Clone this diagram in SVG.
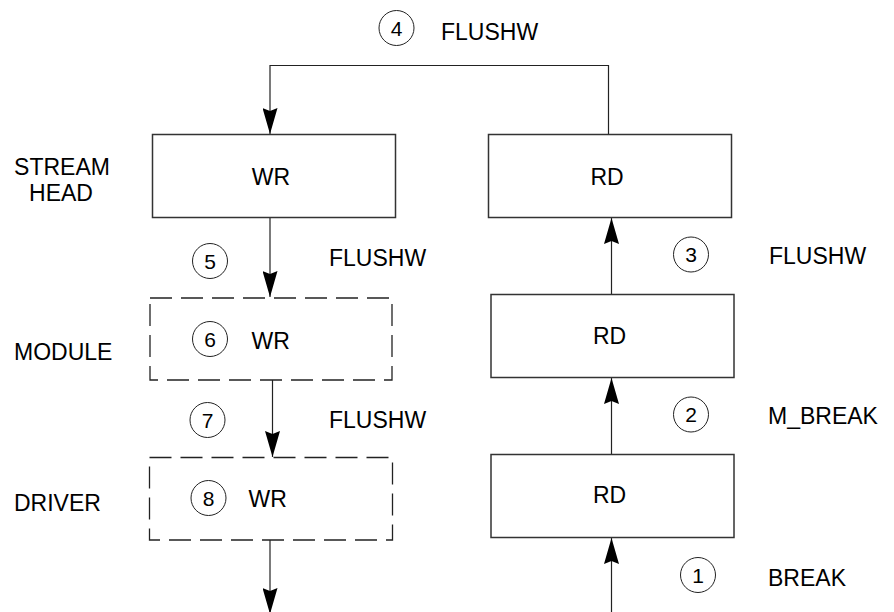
<svg xmlns="http://www.w3.org/2000/svg" width="894" height="612" viewBox="0 0 894 612">
  <style>
    text { font-family: "Liberation Sans", Arial, sans-serif; fill: #000; }
    .lbl { font-size: 23px; }
    .num { font-size: 21px; text-anchor: middle; }
    .mid { text-anchor: middle; }
    .box { fill: #fff; stroke: #333; stroke-width: 1.5; }
    .dash { fill: #fff; stroke: #222; stroke-width: 1.3; stroke-dasharray: 22 9; }
    .ring { fill: none; stroke: #222; stroke-width: 1; }
    .wire { fill: none; stroke: #222; stroke-width: 1.2; }
  </style>
  <defs>
    <marker id="arrow" viewBox="0 0 26 15" refX="26" refY="7.5" markerWidth="26" markerHeight="15" markerUnits="userSpaceOnUse" orient="auto">
      <path d="M0,0 L26,7.5 L0,15 L3,7.5 Z" fill="#000"/>
    </marker>
  </defs>

  <rect width="894" height="612" fill="#fff"/>

  <!-- layer labels -->
  <g id="layer-labels">
    <text class="lbl mid" x="62" y="175">STREAM</text>
    <text class="lbl mid" x="61" y="201">HEAD</text>
    <text class="lbl" x="14" y="360">MODULE</text>
    <text class="lbl" x="14" y="511">DRIVER</text>
  </g>

  <!-- connectors -->
  <g id="connectors">
    <path class="wire" d="M608.5,134.5 V65.5 H270 V134" marker-end="url(#arrow)"/>
    <path class="wire" d="M270,218 V297" marker-end="url(#arrow)"/>
    <path class="wire" d="M272.5,380 V457" marker-end="url(#arrow)"/>
    <path class="wire" d="M270,540 V614" marker-end="url(#arrow)"/>
    <path class="wire" d="M611.5,612 V538" marker-end="url(#arrow)"/>
    <path class="wire" d="M611.5,454 V378" marker-end="url(#arrow)"/>
    <path class="wire" d="M611.5,294 V218" marker-end="url(#arrow)"/>
  </g>

  <!-- write side -->
  <g id="sh-wr">
    <rect class="box" x="152.5" y="134.5" width="243" height="83"/>
    <text class="lbl mid" x="271" y="185">WR</text>
  </g>
  <g id="mod-wr">
    <rect class="dash" x="150" y="298" width="242" height="82"/>
    <circle class="ring" cx="210" cy="339" r="17.5"/>
    <text class="num" x="210" y="346.5">6</text>
    <text class="lbl" x="251.5" y="349">WR</text>
  </g>
  <g id="drv-wr">
    <rect class="dash" x="149.5" y="457.5" width="243" height="82.5"/>
    <circle class="ring" cx="208.5" cy="498" r="17.5"/>
    <text class="num" x="208.5" y="505.5">8</text>
    <text class="lbl" x="248.5" y="507">WR</text>
  </g>

  <!-- read side -->
  <g id="sh-rd">
    <rect class="box" x="488.5" y="134.5" width="243" height="83"/>
    <text class="lbl mid" x="607" y="185">RD</text>
  </g>
  <g id="mod-rd">
    <rect class="box" x="491" y="294.5" width="243" height="83"/>
    <text class="lbl mid" x="609.5" y="344">RD</text>
  </g>
  <g id="drv-rd">
    <rect class="box" x="491" y="454.5" width="243" height="83"/>
    <text class="lbl mid" x="609.5" y="503">RD</text>
  </g>

  <!-- message steps -->
  <g id="step-1">
    <circle class="ring" cx="698" cy="575" r="17.5"/>
    <text class="num" x="698" y="582.5">1</text>
    <text class="lbl" x="768" y="586">BREAK</text>
  </g>
  <g id="step-2">
    <circle class="ring" cx="691" cy="414.5" r="17.5"/>
    <text class="num" x="691" y="422">2</text>
    <text class="lbl" x="768" y="424">M_BREAK</text>
  </g>
  <g id="step-3">
    <circle class="ring" cx="691" cy="254.5" r="17.5"/>
    <text class="num" x="691" y="262">3</text>
    <text class="lbl" x="769" y="264">FLUSHW</text>
  </g>
  <g id="step-4">
    <circle class="ring" cx="396.5" cy="28" r="17.5"/>
    <text class="num" x="396.5" y="35.5">4</text>
    <text class="lbl" x="441" y="39.5">FLUSHW</text>
  </g>
  <g id="step-5">
    <circle class="ring" cx="210" cy="261" r="17.5"/>
    <text class="num" x="210" y="268.5">5</text>
    <text class="lbl" x="329" y="266">FLUSHW</text>
  </g>
  <g id="step-7">
    <circle class="ring" cx="207.5" cy="420" r="17.5"/>
    <text class="num" x="207.5" y="427.5">7</text>
    <text class="lbl" x="329" y="428">FLUSHW</text>
  </g>
</svg>
